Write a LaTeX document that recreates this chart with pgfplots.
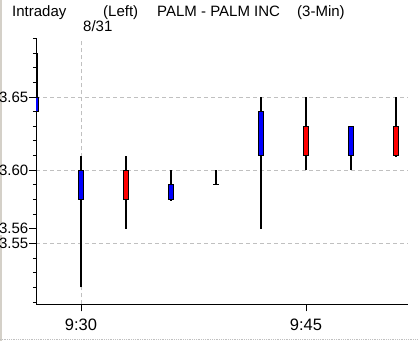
\documentclass[border=0pt]{standalone}
\usepackage{fontspec}
\setmainfont{Liberation Sans}
\usepackage{pgfplots}
\pgfplotsset{compat=1.18}
\definecolor{gridgray}{RGB}{192,192,192}
\definecolor{framegray}{RGB}{212,208,200}
\definecolor{cblue}{RGB}{0,0,255}
\definecolor{cred}{RGB}{255,0,0}
\begin{document}
\begin{tikzpicture}
\useasboundingbox (0,0) rectangle (418bp,341bp);
\fill[white] (0,0) rectangle (418bp,341bp);
\draw[framegray, line width=1.5bp] (0.75bp,0) -- (0.75bp,341bp);
\draw[gridgray, densely dotted, line width=0.8bp] (0,1.5bp) -- (418bp,1.5bp);
\node[anchor=base west, inner sep=0pt, font=\fontsize{15bp}{17bp}\selectfont] at (12bp,324bp) {Intraday};
\node[anchor=base west, inner sep=0pt, font=\fontsize{15bp}{17bp}\selectfont] at (103bp,324bp) {(Left)};
\node[anchor=base west, inner sep=0pt, font=\fontsize{15bp}{17bp}\selectfont] at (157bp,324bp) {PALM - PALM INC};
\node[anchor=base west, inner sep=0pt, font=\fontsize{15bp}{17bp}\selectfont] at (297bp,324bp) {(3-Min)};
\node[anchor=base west, inner sep=0pt, font=\fontsize{15bp}{17bp}\selectfont] at (83bp,309bp) {8/31};
\begin{axis}[
  at={(36bp,36.7bp)}, anchor=south west,
  scale only axis, width=372bp, height=266bp,
  xmin=27, xmax=51.8, ymin=3.5085, ymax=3.69,
  axis x line=bottom, axis y line=left,
  axis line style={-, black, line width=0.9bp},
  tick align=outside,
  major tick length=7bp, minor tick length=3bp,
  tick style={black, line width=0.8bp},
  /pgf/number format/assume math mode=true,
  xtick={30,45}, xticklabels={9:30,9:45},
  xticklabel style={font=\fontsize{16.5bp}{18bp}\selectfont, yshift=-4bp},
  extra x ticks={30}, extra x tick labels={},
  extra x tick style={grid=major},
  ytick={3.55,3.60,3.65}, yticklabels={3.55,3.60,3.65},
  ymajorgrids,
  major grid style={gridgray, line width=0.8bp, dash pattern=on 4bp off 3bp},
  extra y ticks={3.56}, extra y tick labels={3.56},
  extra y tick style={grid=none, yticklabel style={fill=white}},
  yticklabel style={font=\fontsize{15bp}{17bp}\selectfont, inner sep=0.5bp},
  minor ytick={3.51,3.52,3.53,3.54,3.55,3.56,3.57,3.58,3.59,3.60,3.61,3.62,3.63,3.64,3.65,3.66,3.67,3.68,3.69},
  no markers,
  wick/.style={black, line width=1.2bp},
  body/.style={draw=black, line width=0.8bp},
]
% wicks (x, low) -- (x, high)
\addplot[wick, line width=3bp] coordinates {(27,3.64) (27,3.68)};
\addplot[wick] coordinates {(30,3.52) (30,3.61)};
\addplot[wick] coordinates {(33,3.56) (33,3.61)};
\addplot[wick] coordinates {(36,3.579) (36,3.60)};
\addplot[wick] coordinates {(39,3.59) (39,3.60)};
\addplot[wick] coordinates {(42,3.56) (42,3.65)};
\addplot[wick] coordinates {(45,3.60) (45,3.65)};
\addplot[wick] coordinates {(48,3.60) (48,3.63)};
\addplot[wick] coordinates {(51,3.609) (51,3.65)};
% bodies
\addplot[body, fill=cblue] coordinates {(26.85,3.64) (27.18,3.64) (27.18,3.65) (26.85,3.65) (26.85,3.64)};
\addplot[body, fill=cblue] coordinates {(29.85,3.58) (30.15,3.58) (30.15,3.60) (29.85,3.60) (29.85,3.58)};
\addplot[body, fill=cred] coordinates {(32.85,3.58) (33.15,3.58) (33.15,3.60) (32.85,3.60) (32.85,3.58)};
\addplot[body, fill=cblue] coordinates {(35.85,3.58) (36.15,3.58) (36.15,3.59) (35.85,3.59) (35.85,3.58)};
\addplot[wick] coordinates {(38.82,3.59) (39.18,3.59)};
\addplot[body, fill=cblue] coordinates {(41.85,3.61) (42.15,3.61) (42.15,3.64) (41.85,3.64) (41.85,3.61)};
\addplot[body, fill=cred] coordinates {(44.85,3.61) (45.15,3.61) (45.15,3.63) (44.85,3.63) (44.85,3.61)};
\addplot[body, fill=cblue] coordinates {(47.85,3.61) (48.15,3.61) (48.15,3.63) (47.85,3.63) (47.85,3.61)};
\addplot[body, fill=cred] coordinates {(50.85,3.61) (51.15,3.61) (51.15,3.63) (50.85,3.63) (50.85,3.61)};
\end{axis}
\end{tikzpicture}
\end{document}
